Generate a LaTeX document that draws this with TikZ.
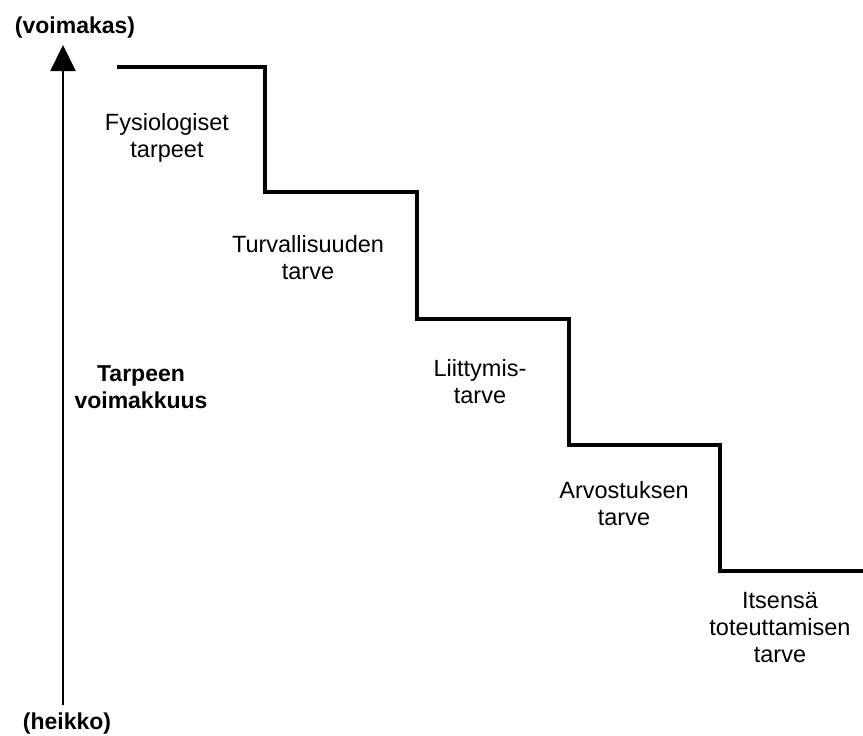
\documentclass[tikz,border=0pt]{standalone}
\usepackage{fontspec}
\setmainfont{Liberation Sans}
\usetikzlibrary{arrows.meta}
\begin{document}
\begin{tikzpicture}[x=1pt,y=-1pt,
  lbl/.style={align=center,anchor=base,inner sep=0pt,
    font=\fontsize{23.5}{27}\selectfont},
  boldlbl/.style={lbl,font=\fontsize{23}{27}\selectfont\bfseries},
  stairs/.style={line width=4pt,line join=miter},
  axis/.style={line width=2pt,-{Triangle[width=25pt,length=26pt]}}]
\useasboundingbox (0,0) rectangle (863,736);
\fill[white] (0,0) rectangle (863,736);

% vertical axis: need strength (labels placed by the baseline of their last line)
\coordinate (lo) at (63,705);
\coordinate (hi) at (63,45);
\draw[axis] (lo) -- (hi);
\node[boldlbl] (strong) at (75,33) {(voimakas)};
\node[boldlbl] (weak) at (67,729) {(heikko)};
\node[boldlbl] (axislbl) at (141,408) {Tarpeen\\voimakkuus};

% staircase of needs
\draw[stairs] (117,67) -- (265,67) -- (265,192) -- (417,192) -- (417,319)
  -- (569,319) -- (569,445) -- (720,445) -- (720,571) -- (863,571);

\node[lbl] (n1) at (167,157) {Fysiologiset\\tarpeet};
\node[lbl] (n2) at (308,279) {Turvallisuuden\\tarve};
\node[lbl] (n3) at (480,403) {Liittymis-\\tarve};
\node[lbl] (n4) at (624,525) {Arvostuksen\\tarve};
\node[lbl] (n5) at (780,662) {Itsensä\\toteuttamisen\\tarve};
\end{tikzpicture}
\end{document}
